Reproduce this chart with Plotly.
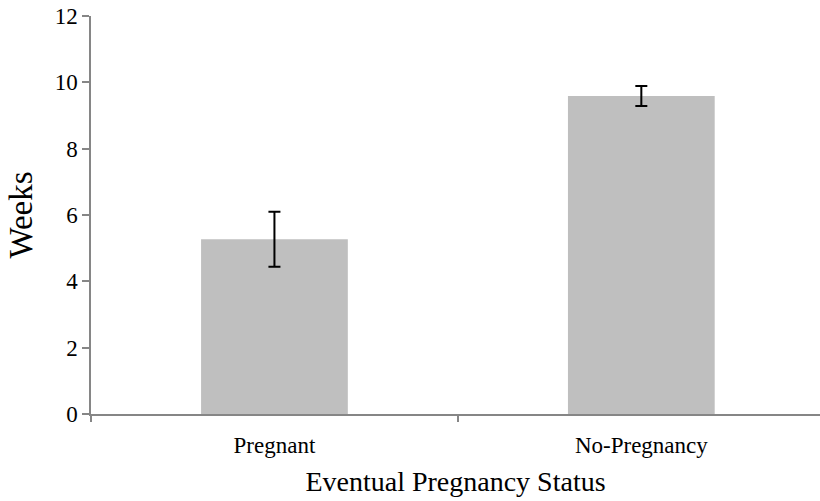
import plotly.graph_objects as go

categories = ["Pregnant", "No-Pregnancy"]
weeks = [5.27, 9.59]
errors = [0.83, 0.30]
y_ticks = [0, 2, 4, 6, 8, 10, 12]

fig = go.Figure()
fig.add_trace(go.Bar(
    x=categories, y=weeks, width=0.4,
    marker=dict(color="#bfbfbf", line=dict(width=0)),
    error_y=dict(type="data", array=errors, visible=True, color="black", thickness=2, width=6),
))

axis_color = "#868686"
fig.update_layout(
    width=820, height=501,
    margin=dict(l=91, r=0, t=16, b=87),
    paper_bgcolor="white", plot_bgcolor="white",
    font=dict(family="Liberation Serif", color="black"),
    showlegend=False,
    xaxis=dict(
        type="category", range=[-0.5, 1.487],
        showline=True, linecolor=axis_color, linewidth=1.5,
        ticks="outside", tickson="boundaries", ticklen=6, tickcolor=axis_color, tickwidth=1.5,
        tickfont=dict(size=23), showgrid=False, ticklabelstandoff=10,
        title=dict(text="Eventual Pregnancy Status", font=dict(size=28), standoff=14),
    ),
    yaxis=dict(
        range=[0, 12], tickvals=y_ticks,
        showline=True, linecolor=axis_color, linewidth=1.5,
        ticks="outside", ticklen=7, tickcolor=axis_color, tickwidth=1.5,
        tickfont=dict(size=23), showgrid=False, zeroline=False,
        title=dict(text="Weeks", font=dict(size=33), standoff=12),
    ),
)
fig.write_html("out.html")
